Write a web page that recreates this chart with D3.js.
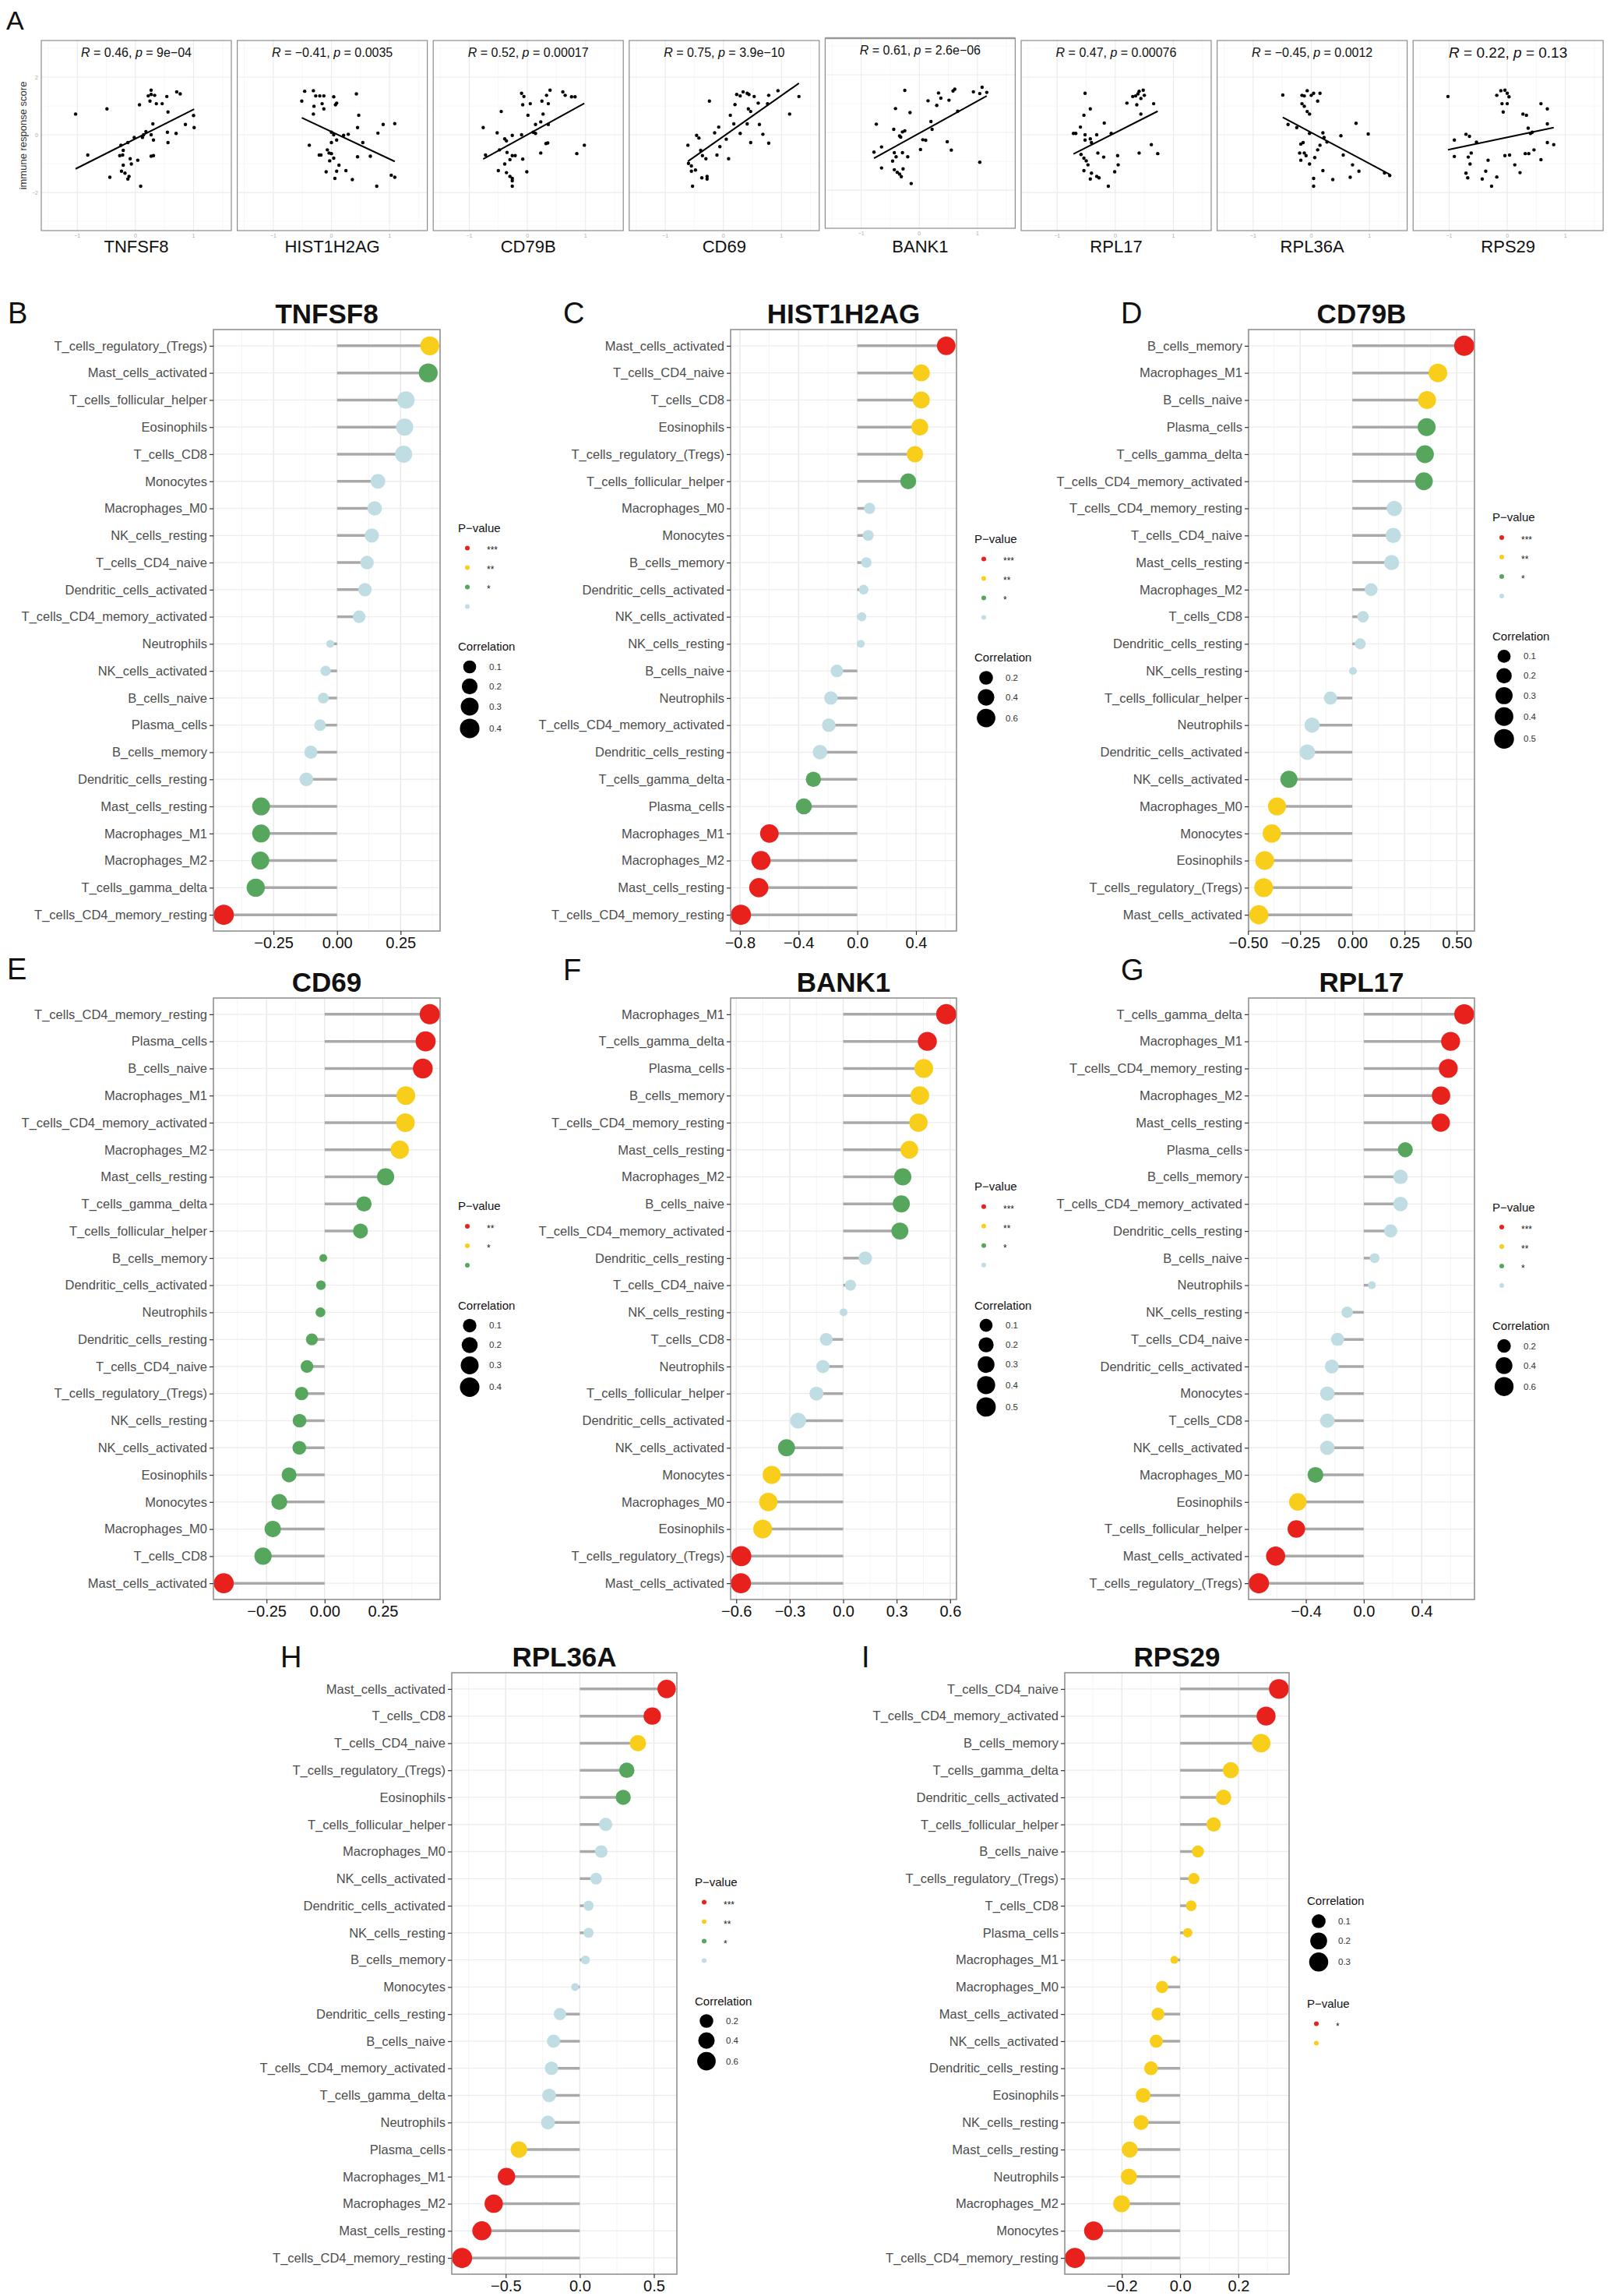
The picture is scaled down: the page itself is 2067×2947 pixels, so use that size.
<!DOCTYPE html>
<html>
<head>
<meta charset="utf-8">
<script src="https://d3js.org/d3.v7.min.js"></script>
<style>
  body { margin: 0; background: #fff; }
</style>
</head>
<body>
<svg id="fig" width="2067" height="2947"></svg>
<script>

// ---------------- Panel A : scatter data ----------------
var scatterGenes = ["TNFSF8", "HIST1H2AG", "CD79B", "CD69", "BANK1", "RPL17", "RPL36A", "RPS29"];
var scatterR = ["0.46", "\u22120.41", "0.52", "0.75", "0.61", "0.47", "\u22120.45", "0.22"];
var scatterP = ["9e\u221204", "0.0035", "0.00017", "3.9e\u221210", "2.6e\u221206", "0.00076", "0.0012", "0.13"];

var tnfsf8X = [-1.03,-0.49,-0.82,-0.44,-0.25,-0.27,-0.22,-0.21,-0.13,-0.21,-0.24,-0.18,-0.11,-0.13,-0.07,-0.09,0.04,0.09,0.07,0.12,0.14,0.22,0.27,0.25,0.27,0.33,0.36,0.46,0.27,0.31,0.31,0.27,0.30,0.54,0.56,0.55,0.56,0.70,0.71,0.77,0.86,1.00,1.01,-0.02,0.18];
var tnfsf8Y = [0.72,0.90,-0.70,-1.47,-0.36,-0.72,-0.70,-0.54,-0.27,-1.05,-1.26,-1.33,-1.44,-1.53,-1.01,-0.83,-0.88,-1.78,1.04,-0.09,0.00,1.35,1.40,1.17,1.55,1.37,1.08,1.08,-0.74,-0.72,-0.18,0.00,0.38,1.33,0.79,0.09,-0.27,0.05,1.49,1.42,0.36,0.67,0.25,-0.09,0.11];

var hist1h2agX = [-0.46,-0.31,-0.51,-0.27,-0.20,-0.13,0.04,-0.30,-0.16,0.07,0.09,-0.31,-0.13,0.43,0.47,0.45,0.00,0.04,0.09,0.29,0.21,-0.38,-0.21,-0.18,-0.07,-0.04,0.00,0.00,0.04,0.13,0.09,-0.09,0.25,0.06,0.36,0.45,0.54,0.67,0.80,0.89,1.09,1.03,1.09,0.78,-0.03];
var hist1h2agY = [1.51,1.53,1.17,1.35,1.35,1.35,1.32,0.99,1.08,1.04,1.10,0.72,0.90,1.42,0.68,0.25,0.09,0.00,-0.18,0.02,-0.02,-0.36,-0.70,-0.70,-0.52,-0.63,-0.65,-0.27,-0.81,-1.05,-1.26,-1.28,-1.24,-1.51,-1.55,-0.76,-0.27,-0.74,0.06,0.36,0.39,-1.40,-1.47,-1.78,-0.90];

var cd79bX = [-0.76,-0.52,-0.45,-0.39,-0.36,-0.26,-0.10,-0.06,-0.08,0.05,0.01,-0.10,0.10,0.14,0.25,0.36,0.39,0.33,0.27,0.36,0.32,0.35,0.23,0.61,0.65,0.76,0.82,0.98,0.85,-0.72,-0.48,-0.35,-0.26,-0.21,-0.30,-0.39,-0.50,-0.36,-0.30,-0.26,-0.26,-0.26,-0.01,-0.08,0.14,0.23];
var cd79bY = [0.25,0.07,0.81,-0.14,-0.21,-0.02,1.44,1.33,1.04,1.08,0.68,0.00,0.09,0.36,1.17,1.08,1.55,1.37,0.72,0.36,-0.30,-0.28,-0.63,1.49,1.37,1.32,1.32,-0.36,-0.65,-0.70,-0.52,-0.61,-0.72,-0.72,-0.86,-1.01,-1.24,-1.31,-1.44,-1.51,-1.59,-1.78,-1.28,-0.84,0.05,0.45];

var cd69X = [-0.61,-0.46,-0.42,-0.24,-0.60,-0.55,-0.48,-0.53,-0.39,-0.36,-0.30,-0.37,-0.28,-0.28,-0.11,-0.06,-0.15,-0.08,0.05,0.09,0.12,0.23,0.20,0.29,0.34,0.41,0.44,0.53,0.43,0.47,0.60,0.76,0.78,0.94,1.30,1.14,0.18,0.29,0.41,0.47,0.62,0.68,0.78,-0.55];
var cd69Y = [-0.36,-0.02,-0.11,1.17,-0.99,-1.26,-1.22,-1.78,-0.54,-0.72,-0.83,-1.49,-1.53,-1.44,-0.70,-0.41,0.07,0.27,-0.15,-0.83,0.68,1.40,1.05,1.35,1.49,1.44,1.40,1.33,0.90,0.81,1.10,1.08,1.37,1.53,1.33,0.72,0.38,0.05,0.38,-0.27,0.36,0.02,-0.29,-1.08];

var bank1X = [-0.25,-0.41,-0.16,-0.74,-0.65,-0.78,-0.44,-0.34,-0.29,-0.25,-0.32,-0.43,-0.40,-0.29,-0.20,-0.46,-0.65,-0.43,-0.38,-0.34,-0.31,-0.28,-0.14,0.02,0.06,0.11,0.15,0.20,0.22,0.30,0.33,0.37,0.51,0.48,0.55,0.58,0.61,0.66,0.93,1.04,1.08,1.16,1.04];
var bank1Y = [1.46,0.83,0.69,0.29,-0.50,-0.68,0.11,-0.12,0.02,0.06,-0.16,-0.70,-0.84,-0.70,-0.84,-0.99,-1.23,-1.29,-1.38,-1.44,-1.53,-1.26,-1.77,-0.59,-0.25,-0.27,1.10,0.38,0.11,0.94,1.37,1.19,1.12,-0.32,-0.61,1.44,1.50,0.74,1.41,1.35,1.57,1.39,-1.03];

var rpl17X = [-0.52,-0.43,-0.54,-0.60,-0.72,-0.68,-0.52,-0.52,-0.43,-0.32,-0.41,-0.59,-0.54,-0.50,-0.47,-0.54,-0.41,-0.32,-0.28,-0.43,-0.12,-0.30,-0.20,-0.19,-0.07,0.04,0.05,-0.01,0.20,0.30,0.35,0.39,0.41,0.48,0.44,0.50,0.37,0.44,0.66,0.41,0.62,0.73];
var rpl17Y = [1.44,0.90,0.68,0.27,0.05,0.05,0.00,-0.18,-0.14,0.00,-0.27,-0.68,-0.81,-0.90,-1.04,-1.24,-1.33,-1.44,-1.49,-1.53,-1.78,-0.63,-0.77,0.41,0.05,-0.72,-1.04,-1.28,1.10,1.33,1.35,1.42,1.51,1.55,1.26,1.37,1.04,0.72,1.08,-0.63,-0.34,-0.65];

var rpl36aX = [-0.49,-0.16,-0.12,-0.07,0.00,0.04,0.15,0.11,-0.16,-0.12,-0.07,-0.03,-0.40,-0.25,-0.03,0.20,0.22,0.51,0.77,0.98,-0.18,-0.14,-0.20,-0.12,-0.09,-0.18,0.11,0.15,0.06,-0.03,0.27,0.55,0.71,0.82,0.20,0.04,0.04,0.37,0.67,1.26,1.35];
var rpl36aY = [1.38,1.37,1.35,1.53,1.37,1.44,1.44,1.17,1.08,0.99,0.81,0.72,0.36,0.25,0.05,0.07,-0.09,-0.03,0.40,0.03,-0.32,-0.27,-0.63,-0.63,-0.72,-0.88,-0.52,-0.36,-0.79,-1.01,-0.25,-0.70,-1.04,-1.26,-1.24,-1.51,-1.78,-1.55,-1.47,-1.32,-1.41];

var rps29X = [-1.02,-0.91,-0.71,-0.65,-0.53,-0.91,-0.62,-0.67,-0.64,-0.71,-0.68,-0.43,-0.37,-0.33,-0.27,-0.18,-0.18,-0.11,-0.04,0.00,0.03,-0.09,0.00,-0.07,-0.04,0.04,0.13,0.22,0.27,0.33,0.36,0.40,0.43,0.31,0.37,0.46,0.58,0.58,0.69,0.69,0.69,0.80];
var rps29Y = [1.33,-0.18,0.02,-0.05,-0.25,-0.75,-0.63,-0.77,-1.01,-1.33,-1.49,-1.53,-1.26,-0.88,-1.78,-1.46,1.37,1.53,1.55,1.44,1.32,1.08,1.08,0.79,-0.72,-0.70,-1.04,-1.31,0.72,0.68,0.23,0.05,0.09,-0.65,-0.65,-0.52,1.08,-0.86,0.90,0.38,-0.27,-0.34];

// ---------------- Panels B-I : lollipop data ----------------
var pLevels4 = ["***", "**", "*", ""];
var pLevelsCD69 = ["**", "*", ""];
var pLevelsRPS29 = ["*", ""];

var tnfsf8Cells = ["T_cells_regulatory_(Tregs)","Mast_cells_activated","T_cells_follicular_helper","Eosinophils","T_cells_CD8","Monocytes","Macrophages_M0","NK_cells_resting","T_cells_CD4_naive","Dendritic_cells_activated","T_cells_CD4_memory_activated","Neutrophils","NK_cells_activated","B_cells_naive","Plasma_cells","B_cells_memory","Dendritic_cells_resting","Mast_cells_resting","Macrophages_M1","Macrophages_M2","T_cells_gamma_delta","T_cells_CD4_memory_resting"];
var tnfsf8Corr = [0.365,0.359,0.271,0.266,0.262,0.161,0.148,0.137,0.118,0.110,0.087,-0.027,-0.045,-0.054,-0.067,-0.103,-0.121,-0.299,-0.299,-0.302,-0.320,-0.446];
var tnfsf8Sig = ["**","*","","","","","","","","","","","","","","","","*","*","*","*","***"];
var tnfsf8Ticks = [-0.25, 0, 0.25];
var tnfsf8TickLabels = ["\u22120.25", "0.00", "0.25"];
var tnfsf8SizeBreaks = [0.1, 0.2, 0.3, 0.4];

var hist1h2agCells = ["Mast_cells_activated","T_cells_CD4_naive","T_cells_CD8","Eosinophils","T_cells_regulatory_(Tregs)","T_cells_follicular_helper","Macrophages_M0","Monocytes","B_cells_memory","Dendritic_cells_activated","NK_cells_activated","NK_cells_resting","B_cells_naive","Neutrophils","T_cells_CD4_memory_activated","Dendritic_cells_resting","T_cells_gamma_delta","Plasma_cells","Macrophages_M1","Macrophages_M2","Mast_cells_resting","T_cells_CD4_memory_resting"];
var hist1h2agCorr = [0.606,0.436,0.436,0.426,0.393,0.347,0.084,0.074,0.062,0.043,0.031,0.024,-0.139,-0.180,-0.194,-0.254,-0.299,-0.364,-0.599,-0.656,-0.671,-0.793];
var hist1h2agSig = ["***","**","**","**","**","*","","","","","","","","","","","*","*","***","***","***","***"];
var hist1h2agTicks = [-0.8, -0.4, 0, 0.4];
var hist1h2agTickLabels = ["\u22120.8", "\u22120.4", "0.0", "0.4"];
var hist1h2agSizeBreaks = [0.2, 0.4, 0.6];

var cd79bCells = ["B_cells_memory","Macrophages_M1","B_cells_naive","Plasma_cells","T_cells_gamma_delta","T_cells_CD4_memory_activated","T_cells_CD4_memory_resting","T_cells_CD4_naive","Mast_cells_resting","Macrophages_M2","T_cells_CD8","Dendritic_cells_resting","NK_cells_resting","T_cells_follicular_helper","Neutrophils","Dendritic_cells_activated","NK_cells_activated","Macrophages_M0","Monocytes","Eosinophils","T_cells_regulatory_(Tregs)","Mast_cells_activated"];
var cd79bCorr = [0.536,0.410,0.358,0.356,0.348,0.343,0.201,0.196,0.188,0.090,0.051,0.038,0.003,-0.105,-0.193,-0.216,-0.304,-0.361,-0.386,-0.420,-0.425,-0.448];
var cd79bSig = ["***","**","**","*","*","*","","","","","","","","","","","*","**","**","**","**","**"];
var cd79bTicks = [-0.5, -0.25, 0, 0.25, 0.5];
var cd79bTickLabels = ["\u22120.50", "\u22120.25", "0.00", "0.25", "0.50"];
var cd79bSizeBreaks = [0.1, 0.2, 0.3, 0.4, 0.5];

var cd69Cells = ["T_cells_CD4_memory_resting","Plasma_cells","B_cells_naive","Macrophages_M1","T_cells_CD4_memory_activated","Macrophages_M2","Mast_cells_resting","T_cells_gamma_delta","T_cells_follicular_helper","B_cells_memory","Dendritic_cells_activated","Neutrophils","Dendritic_cells_resting","T_cells_CD4_naive","T_cells_regulatory_(Tregs)","NK_cells_resting","NK_cells_activated","Eosinophils","Monocytes","Macrophages_M0","T_cells_CD8","Mast_cells_activated"];
var cd69Corr = [0.452,0.434,0.422,0.349,0.347,0.323,0.262,0.169,0.154,-0.006,-0.016,-0.018,-0.055,-0.076,-0.099,-0.108,-0.109,-0.153,-0.195,-0.223,-0.265,-0.434];
var cd69Sig = ["**","**","**","*","*","*","","","","","","","","","","","","","","","","**"];
var cd69Ticks = [-0.25, 0, 0.25];
var cd69TickLabels = ["\u22120.25", "0.00", "0.25"];
var cd69SizeBreaks = [0.1, 0.2, 0.3, 0.4];

var bank1Cells = ["Macrophages_M1","T_cells_gamma_delta","Plasma_cells","B_cells_memory","T_cells_CD4_memory_resting","Mast_cells_resting","Macrophages_M2","B_cells_naive","T_cells_CD4_memory_activated","Dendritic_cells_resting","T_cells_CD4_naive","NK_cells_resting","T_cells_CD8","Neutrophils","T_cells_follicular_helper","Dendritic_cells_activated","NK_cells_activated","Monocytes","Macrophages_M0","Eosinophils","T_cells_regulatory_(Tregs)","Mast_cells_activated"];
var bank1Corr = [0.578,0.472,0.452,0.430,0.422,0.371,0.334,0.326,0.318,0.124,0.041,0.002,-0.095,-0.114,-0.150,-0.253,-0.318,-0.401,-0.420,-0.452,-0.572,-0.574];
var bank1Sig = ["***","***","**","**","**","**","*","*","*","","","","","","","","*","**","**","**","***","***"];
var bank1Ticks = [-0.6, -0.3, 0, 0.3, 0.6];
var bank1TickLabels = ["\u22120.6", "\u22120.3", "0.0", "0.3", "0.6"];
var bank1SizeBreaks = [0.1, 0.2, 0.3, 0.4, 0.5];

var rpl17Cells = ["T_cells_gamma_delta","Macrophages_M1","T_cells_CD4_memory_resting","Macrophages_M2","Mast_cells_resting","Plasma_cells","B_cells_memory","T_cells_CD4_memory_activated","Dendritic_cells_resting","B_cells_naive","Neutrophils","NK_cells_resting","T_cells_CD4_naive","Dendritic_cells_activated","Monocytes","T_cells_CD8","NK_cells_activated","Macrophages_M0","Eosinophils","T_cells_follicular_helper","Mast_cells_activated","T_cells_regulatory_(Tregs)"];
var rpl17Corr = [0.694,0.600,0.584,0.534,0.532,0.287,0.254,0.254,0.186,0.075,0.056,-0.115,-0.181,-0.221,-0.252,-0.252,-0.252,-0.334,-0.456,-0.466,-0.609,-0.725];
var rpl17Sig = ["***","***","***","***","***","*","","","","","","","","","","","","*","**","***","***","***"];
var rpl17Ticks = [-0.4, 0, 0.4];
var rpl17TickLabels = ["\u22120.4", "0.0", "0.4"];
var rpl17SizeBreaks = [0.2, 0.4, 0.6];

var rpl36aCells = ["Mast_cells_activated","T_cells_CD8","T_cells_CD4_naive","T_cells_regulatory_(Tregs)","Eosinophils","T_cells_follicular_helper","Macrophages_M0","NK_cells_activated","Dendritic_cells_activated","NK_cells_resting","B_cells_memory","Monocytes","Dendritic_cells_resting","B_cells_naive","T_cells_CD4_memory_activated","T_cells_gamma_delta","Neutrophils","Plasma_cells","Macrophages_M1","Macrophages_M2","Mast_cells_resting","T_cells_CD4_memory_resting"];
var rpl36aCorr = [0.586,0.489,0.392,0.317,0.293,0.175,0.145,0.110,0.059,0.059,0.038,-0.032,-0.134,-0.177,-0.191,-0.207,-0.215,-0.411,-0.495,-0.581,-0.661,-0.795];
var rpl36aSig = ["***","***","**","*","*","","","","","","","","","","","","","**","***","***","***","***"];
var rpl36aTicks = [-0.5, 0, 0.5];
var rpl36aTickLabels = ["\u22120.5", "0.0", "0.5"];
var rpl36aSizeBreaks = [0.2, 0.4, 0.6];

var rps29Cells = ["T_cells_CD4_naive","T_cells_CD4_memory_activated","B_cells_memory","T_cells_gamma_delta","Dendritic_cells_activated","T_cells_follicular_helper","B_cells_naive","T_cells_regulatory_(Tregs)","T_cells_CD8","Plasma_cells","Macrophages_M1","Macrophages_M0","Mast_cells_activated","NK_cells_activated","Dendritic_cells_resting","Eosinophils","NK_cells_resting","Mast_cells_resting","Neutrophils","Macrophages_M2","Monocytes","T_cells_CD4_memory_resting"];
var rps29Corr = [0.339,0.295,0.278,0.174,0.149,0.115,0.061,0.047,0.038,0.026,-0.020,-0.062,-0.076,-0.082,-0.100,-0.127,-0.134,-0.173,-0.176,-0.201,-0.297,-0.361];
var rps29Sig = ["*","*","","","","","","","","","","","","","","","","","","","*","*"];
var rps29Ticks = [-0.2, 0, 0.2];
var rps29TickLabels = ["\u22120.2", "0.0", "0.2"];
var rps29SizeBreaks = [0.1, 0.2, 0.3];

// ---------------- drawing ----------------
var FONT = '"Liberation Sans", Arial, Helvetica, sans-serif';
var palette = ["#E8211D", "#F9CE1B", "#56A65E", "#BFDDE3"];

var svg = d3.select("#fig").attr("font-family", FONT);
svg.append("rect").attr("width", 2067).attr("height", 2947).attr("fill", "#fff");

// ===== Panel A =====
svg.append("text").attr("x", 8).attr("y", 38).attr("font-size", 34).attr("fill", "#111").text("A");

svg.append("text")
  .attr("transform", "translate(34,174) rotate(-90)")
  .attr("text-anchor", "middle")
  .attr("font-size", 13)
  .attr("fill", "#333")
  .text("immune response score");

var scatterSets = [
  [tnfsf8X, tnfsf8Y], [hist1h2agX, hist1h2agY], [cd79bX, cd79bY], [cd69X, cd69Y],
  [bank1X, bank1Y], [rpl17X, rpl17Y], [rpl36aX, rpl36aY], [rps29X, rps29Y]
];

scatterGenes.forEach(function(gene, i) {
  var xs = scatterSets[i][0], ys = scatterSets[i][1];
  var left = 53 + i * 251.6, w = 244, h = 244;
  var top = gene === "BANK1" ? 49 : 52;
  var x = d3.scaleLinear().domain([-1.62, 1.65]).range([left, left + w]);
  var y = d3.scaleLinear().domain([-3.32, 3.27]).range([top + h, top]);
  var g = svg.append("g");

  // grid
  [-1.5, -0.5, 0.5, 1.5].forEach(function(v) {
    g.append("line").attr("x1", x(v)).attr("x2", x(v)).attr("y1", top).attr("y2", top + h)
      .attr("stroke", "#F5F5F5").attr("stroke-width", 0.8);
  });
  [-3, -1, 1, 3].forEach(function(v) {
    g.append("line").attr("x1", left).attr("x2", left + w).attr("y1", y(v)).attr("y2", y(v))
      .attr("stroke", "#F5F5F5").attr("stroke-width", 0.8);
  });
  [-1, 0, 1].forEach(function(v) {
    g.append("line").attr("x1", x(v)).attr("x2", x(v)).attr("y1", top).attr("y2", top + h)
      .attr("stroke", "#EBEBEB").attr("stroke-width", 1.1);
  });
  [-2, 0, 2].forEach(function(v) {
    g.append("line").attr("x1", left).attr("x2", left + w).attr("y1", y(v)).attr("y2", y(v))
      .attr("stroke", "#EBEBEB").attr("stroke-width", 1.1);
  });

  // points
  g.selectAll("circle").data(xs).join("circle")
    .attr("cx", function(d) { return x(d); })
    .attr("cy", function(d, k) { return y(ys[k]); })
    .attr("r", 2.2)
    .attr("fill", "#000");

  // least-squares line
  var mx = d3.mean(xs), my = d3.mean(ys);
  var b = d3.sum(xs, function(v, k) { return (v - mx) * (ys[k] - my); }) /
          d3.sum(xs, function(v) { return (v - mx) * (v - mx); });
  var a = my - b * mx;
  var ext = d3.extent(xs);
  g.append("line")
    .attr("x1", x(ext[0])).attr("y1", y(a + b * ext[0]))
    .attr("x2", x(ext[1])).attr("y2", y(a + b * ext[1]))
    .attr("stroke", "#000").attr("stroke-width", 2);

  // frame
  g.append("rect").attr("x", left).attr("y", top).attr("width", w).attr("height", h)
    .attr("fill", "none").attr("stroke", "#8C8C8C").attr("stroke-width", 1.2);
  if (gene === "BANK1") {
    g.append("line").attr("x1", left).attr("x2", left + w).attr("y1", top).attr("y2", top)
      .attr("stroke", "#999").attr("stroke-width", 2.4);
  }

  // tiny tick labels
  [-1, 0, 1].forEach(function(v) {
    g.append("text").attr("x", x(v)).attr("y", top + h + 9).attr("text-anchor", "middle")
      .attr("font-size", 7).attr("fill", "#aaa").text(v < 0 ? "\u22121" : String(v));
  });
  if (i === 0) {
    [-2, 0, 2].forEach(function(v) {
      g.append("text").attr("x", left - 4).attr("y", y(v) + 2.5).attr("text-anchor", "end")
        .attr("font-size", 7).attr("fill", "#aaa").text(v < 0 ? "\u22122" : String(v));
    });
  }

  // R / p annotation
  var big = gene === "RPS29";
  var t = g.append("text").attr("x", left + w / 2).attr("y", top + (big ? 22 : 21))
    .attr("text-anchor", "middle").attr("font-size", big ? 19 : 16).attr("fill", "#111");
  t.append("tspan").attr("font-style", "italic").text("R");
  t.append("tspan").text(" = " + scatterR[i] + ", ");
  t.append("tspan").attr("font-style", "italic").text("p");
  t.append("tspan").text(" = " + scatterP[i]);

  // gene label
  g.append("text").attr("x", left + w / 2).attr("y", 324).attr("text-anchor", "middle")
    .attr("font-size", 22).attr("fill", "#111").text(gene);
});

// ===== Panels B - I =====
var PH = 772;

var lolliPanels = [
  {letter: "B", gene: "TNFSF8", cells: tnfsf8Cells, corr: tnfsf8Corr, sig: tnfsf8Sig, levels: pLevels4,
   ticks: tnfsf8Ticks, tickLabels: tnfsf8TickLabels, sizeBreaks: tnfsf8SizeBreaks,
   left: 274, right: 565, top: 423, lx: 10, ly: 415},
  {letter: "C", gene: "HIST1H2AG", cells: hist1h2agCells, corr: hist1h2agCorr, sig: hist1h2agSig, levels: pLevels4,
   ticks: hist1h2agTicks, tickLabels: hist1h2agTickLabels, sizeBreaks: hist1h2agSizeBreaks,
   left: 938, right: 1228, top: 423, lx: 723, ly: 415},
  {letter: "D", gene: "CD79B", cells: cd79bCells, corr: cd79bCorr, sig: cd79bSig, levels: pLevels4,
   ticks: cd79bTicks, tickLabels: cd79bTickLabels, sizeBreaks: cd79bSizeBreaks,
   left: 1603, right: 1893, top: 423, lx: 1439, ly: 415},
  {letter: "E", gene: "CD69", cells: cd69Cells, corr: cd69Corr, sig: cd69Sig, levels: pLevelsCD69,
   ticks: cd69Ticks, tickLabels: cd69TickLabels, sizeBreaks: cd69SizeBreaks,
   left: 274, right: 565, top: 1281, lx: 9, ly: 1257},
  {letter: "F", gene: "BANK1", cells: bank1Cells, corr: bank1Corr, sig: bank1Sig, levels: pLevels4,
   ticks: bank1Ticks, tickLabels: bank1TickLabels, sizeBreaks: bank1SizeBreaks,
   left: 938, right: 1228, top: 1281, lx: 723, ly: 1258},
  {letter: "G", gene: "RPL17", cells: rpl17Cells, corr: rpl17Corr, sig: rpl17Sig, levels: pLevels4,
   ticks: rpl17Ticks, tickLabels: rpl17TickLabels, sizeBreaks: rpl17SizeBreaks,
   left: 1603, right: 1893, top: 1281, lx: 1439, ly: 1258},
  {letter: "H", gene: "RPL36A", cells: rpl36aCells, corr: rpl36aCorr, sig: rpl36aSig, levels: pLevels4,
   ticks: rpl36aTicks, tickLabels: rpl36aTickLabels, sizeBreaks: rpl36aSizeBreaks,
   left: 580, right: 869, top: 2147, lx: 360, ly: 2140},
  {letter: "I", gene: "RPS29", cells: rps29Cells, corr: rps29Corr, sig: rps29Sig, levels: pLevelsRPS29,
   ticks: rps29Ticks, tickLabels: rps29TickLabels, sizeBreaks: rps29SizeBreaks,
   left: 1367, right: 1655, top: 2147, lx: 1106, ly: 2140, corrFirst: true}
];

lolliPanels.forEach(drawLollipop);

function drawLollipop(p) {
  var g = svg.append("g");
  var ext = d3.extent(p.corr.concat([0]));
  var pad = (ext[1] - ext[0]) * 0.05;
  var x = d3.scaleLinear().domain([ext[0] - pad, ext[1] + pad]).range([p.left, p.right]);
  var y = d3.scalePoint().domain(p.cells).range([p.top, p.top + PH]).padding(0.6);

  // size: area-like scaling of |r| as in ggplot's scale_size
  var aext = d3.extent(p.corr, function(v) { return Math.abs(v); });
  var sizeT = d3.scaleLinear().domain(aext).range([0, 1]).clamp(true);
  var diam = d3.scaleLinear().domain([0, 1]).range([10, 26]);
  var rad = function(v) { return diam(Math.sqrt(sizeT(Math.abs(v)))) / 2; };
  var color = d3.scaleOrdinal().domain(p.levels).range(palette.slice(0, p.levels.length));

  // minor vertical grid
  var step = p.ticks[1] - p.ticks[0];
  var dom = x.domain();
  var minors = [];
  for (var k = -1; k < p.ticks.length; k++) {
    var v = p.ticks[0] + (k + 0.5) * step;
    if (v > dom[0] && v < dom[1]) minors.push(v);
  }
  g.selectAll(".minor").data(minors).join("line").attr("class", "minor")
    .attr("x1", x).attr("x2", x).attr("y1", p.top).attr("y2", p.top + PH)
    .attr("stroke", "#F4F4F4").attr("stroke-width", 1);
  g.selectAll(".majorx").data(p.ticks).join("line").attr("class", "majorx")
    .attr("x1", x).attr("x2", x).attr("y1", p.top).attr("y2", p.top + PH)
    .attr("stroke", "#E8E8E8").attr("stroke-width", 1.4);
  g.selectAll(".majory").data(p.cells).join("line").attr("class", "majory")
    .attr("x1", p.left).attr("x2", p.right).attr("y1", y).attr("y2", y)
    .attr("stroke", "#EDEDED").attr("stroke-width", 1.3);

  // stems
  g.selectAll(".seg").data(p.cells).join("line").attr("class", "seg")
    .attr("x1", x(0))
    .attr("x2", function(d, i) { return x(p.corr[i]); })
    .attr("y1", y).attr("y2", y)
    .attr("stroke", "#A9A9A9").attr("stroke-width", 3.5);

  // heads
  g.selectAll(".dot").data(p.cells).join("circle").attr("class", "dot")
    .attr("cx", function(d, i) { return x(p.corr[i]); })
    .attr("cy", y)
    .attr("r", function(d, i) { return rad(p.corr[i]); })
    .attr("fill", function(d, i) { return color(p.sig[i]); });

  // frame
  g.append("rect").attr("x", p.left).attr("y", p.top)
    .attr("width", p.right - p.left).attr("height", PH)
    .attr("fill", "none").attr("stroke", "#8A8A8A").attr("stroke-width", 1.5);

  // axes
  var xa = d3.axisBottom(x).tickValues(p.ticks)
    .tickFormat(function(d, i) { return p.tickLabels[i]; })
    .tickSize(5).tickPadding(3);
  g.append("g").attr("transform", "translate(0," + (p.top + PH) + ")").call(xa)
    .call(function(s) {
      s.select(".domain").remove();
      s.selectAll("line").attr("stroke", "#333").attr("stroke-width", 1.2);
      s.selectAll("text").attr("font-size", 20).attr("fill", "#111").attr("font-family", FONT);
    });
  var ya = d3.axisLeft(y).tickSize(5).tickPadding(3);
  g.append("g").attr("transform", "translate(" + p.left + ",0)").call(ya)
    .call(function(s) {
      s.select(".domain").remove();
      s.selectAll("line").attr("stroke", "#333").attr("stroke-width", 1.2);
      s.selectAll("text").attr("font-size", 16.5).attr("fill", "#4D4D4D").attr("font-family", FONT);
    });

  // title and panel letter
  g.append("text").attr("x", (p.left + p.right) / 2).attr("y", p.top - 8)
    .attr("text-anchor", "middle").attr("font-size", 35).attr("font-weight", "bold")
    .attr("fill", "#111").text(p.gene);
  g.append("text").attr("x", p.lx).attr("y", p.ly)
    .attr("font-size", 38).attr("fill", "#111").text(p.letter);

  // ---- legends ----
  var lx = p.right + 23;
  var pBlock = {
    title: "P\u2212value",
    keys: p.levels.map(function(lv) { return {h: 25, kind: "p", level: lv}; })
  };
  var cBlock = {
    title: "Correlation",
    keys: p.sizeBreaks.map(function(bv) {
      var d = 2 * rad(bv);
      return {h: Math.max(25, d + 4), kind: "c", value: bv, r: d / 2};
    })
  };
  var blocks = p.corrFirst ? [cBlock, pBlock] : [pBlock, cBlock];

  // positions relative to first title centre
  var items = [];
  var cur = 0;
  blocks.forEach(function(bl, bi) {
    if (bi > 0) {
      var lastKey = blocks[bi - 1].keys[blocks[bi - 1].keys.length - 1];
      cur += lastKey.h / 2 + 39;
    }
    items.push({type: "title", text: bl.title, c: cur});
    bl.keys.forEach(function(kk, ki) {
      if (ki === 0) cur += 13.5 + kk.h / 2;
      else cur += (bl.keys[ki - 1].h + kk.h) / 2;
      items.push({type: "key", key: kk, c: cur});
    });
  });
  var lastH = blocks[1].keys[blocks[1].keys.length - 1].h;
  var total = cur + lastH / 2 + 9;
  var base = p.top + PH / 2 - total / 2 + 9;

  var lg = g.append("g");
  items.forEach(function(it) {
    var cy = base + it.c;
    if (it.type === "title") {
      lg.append("text").attr("x", lx).attr("y", cy + 5.5)
        .attr("font-size", 15).attr("fill", "#111").text(it.text);
    } else if (it.key.kind === "p") {
      lg.append("circle").attr("cx", lx + 12).attr("cy", cy).attr("r", 3)
        .attr("fill", color(it.key.level));
      lg.append("text").attr("x", lx + 37).attr("y", cy + 7)
        .attr("font-size", 12).attr("fill", "#222").text(it.key.level);
    } else {
      lg.append("circle").attr("cx", lx + 15).attr("cy", cy).attr("r", it.key.r)
        .attr("fill", "#000");
      lg.append("text").attr("x", lx + 40).attr("y", cy + 4)
        .attr("font-size", 11.5).attr("fill", "#333").text(d3.format(".1f")(it.key.value));
    }
  });
}

</script>
</body>
</html>
